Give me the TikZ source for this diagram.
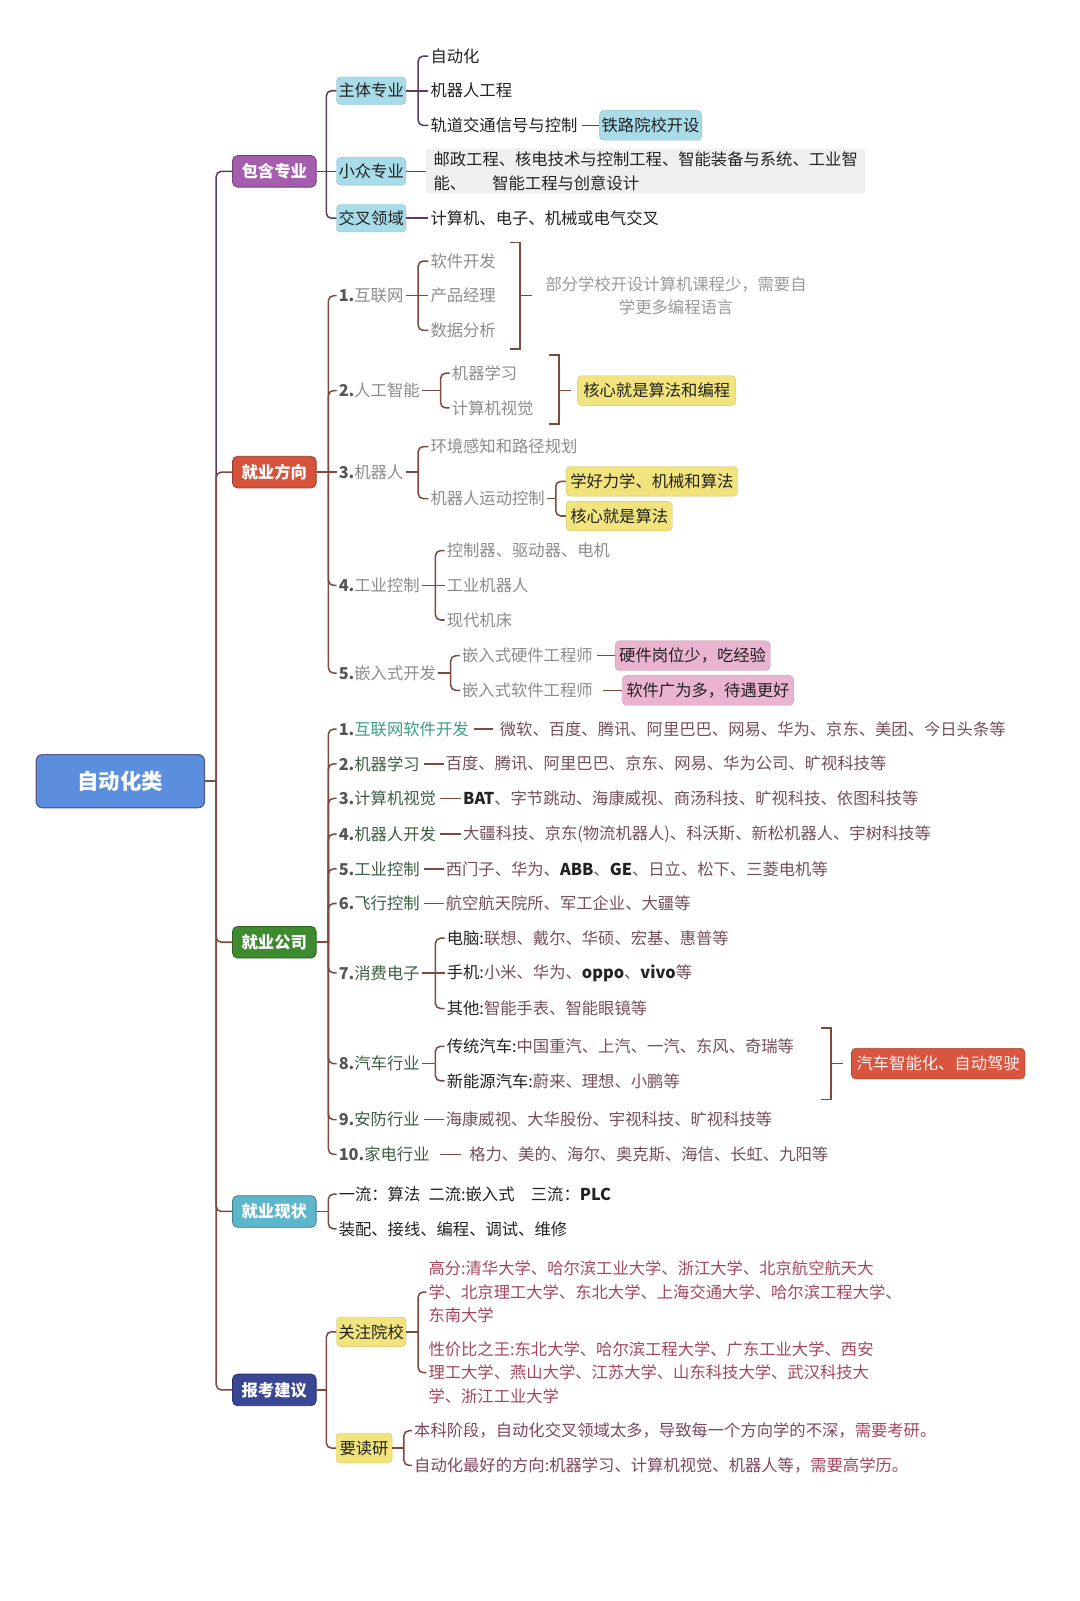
\documentclass[tikz,border=0pt]{standalone}
\usepackage{fontspec}
\setmainfont{Noto Sans CJK SC}
\definecolor{cRoot}{HTML}{5B8EDD}
\definecolor{cRootB}{HTML}{5A5A88}
\definecolor{cPurple}{HTML}{A55DAE}
\definecolor{cRed}{HTML}{D5523B}
\definecolor{cGreen}{HTML}{3D8A2F}
\definecolor{cCyan}{HTML}{5CB6CC}
\definecolor{cNavy}{HTML}{3A4794}
\definecolor{cLBlue}{HTML}{A8DCE9}
\definecolor{cYel}{HTML}{F2E47C}
\definecolor{cPink}{HTML}{EAB3CF}
\definecolor{cBg}{HTML}{EFEFEF}
\definecolor{cTxt}{HTML}{222222}
\definecolor{cGrey}{HTML}{8C8C8C}
\definecolor{cGreyL}{HTML}{9A9A9A}
\definecolor{cNum}{HTML}{555555}
\definecolor{cTeal}{HTML}{3E9E82}
\definecolor{cLab}{HTML}{3D5E44}
\definecolor{cMar}{HTML}{74505A}
\definecolor{cRose}{HTML}{A4475E}
\definecolor{cMar2}{HTML}{7D4760}
\definecolor{cPL}{HTML}{5E3B62}
\definecolor{cBL}{HTML}{7E4A3C}
\definecolor{cCarR}{HTML}{D9553E}
\begin{document}
\begin{tikzpicture}[x=1pt,y=-1pt,
  conn/.style={line width=1.5pt, draw=cBL, rounded corners=5pt},
  connP/.style={conn, draw=cPL},
  brk/.style={line width=1.5pt, draw=cBL},
  txt/.style={anchor=west, inner xsep=2pt, inner ysep=2pt, text=cTxt, font=\fontsize{16}{23}\selectfont},
  gtxt/.style={txt, text=cGrey},
  ltxt/.style={txt, text=cLab},
  mtxt/.style={txt, text=cMar},
  lbox/.style={rounded corners=5pt, draw=#1!70!black, fill=#1, line width=0.8pt, text=white, font=\bfseries\fontsize{16}{20}\selectfont, minimum width=82pt, minimum height=31pt, inner sep=0pt},
  sbox/.style={rounded corners=4pt, fill=cLBlue, draw=cLBlue!85!black, line width=0.4pt, text=cTxt, font=\fontsize{16}{20}\selectfont, minimum width=68pt, minimum height=27pt, inner sep=0pt},
  ybox/.style={rounded corners=4pt, fill=cYel, draw=cYel!85!black, line width=0.4pt, text=cTxt, font=\fontsize{16}{20}\selectfont, minimum height=29pt, inner xsep=4pt},
  pbox/.style={rounded corners=4pt, fill=cPink, draw=cPink!85!black, line width=0.4pt, text=cTxt, font=\fontsize{16}{20}\selectfont, minimum height=29pt, inner xsep=4pt}
]
\useasboundingbox (0,0) rectangle (1059,1570);
\fill[white] (0,0) rectangle (1059,1570);

% root
\node[draw=cRootB, fill=cRoot, rounded corners=6pt, line width=1.2pt, minimum width=165pt, minimum height=52pt, text=white, font=\bfseries\fontsize{21}{24}\selectfont] (root) at (118,766) {自动化类};

% level 1
\node[lbox=cPurple] (bh) at (269,168) {包含专业};
\node[lbox=cRed] (jf) at (269,463) {就业方向};
\node[lbox=cGreen] (jg) at (269,924) {就业公司};
\node[lbox=cCyan] (jx) at (269,1188) {就业现状};
\node[lbox=cNavy] (bk) at (269,1363) {报考建议};

\draw[conn] (root.east) -- (212,766) coordinate (t0);
\draw[connP] (t0) |- (bh.west);
\draw[conn] (t0) |- (jf.west);
\draw[conn] (t0) |- (jg.west);
\draw[conn] (t0) |- (jx.west);
\draw[conn] (t0) |- (bk.west);

% ===== 包含专业
\node[sbox] (zt) at (364,89) {主体专业};
\node[sbox] (xz) at (364,168) {小众专业};
\node[sbox] (jc) at (364,214) {交叉领域};
\draw[connP] (bh.east) -- (320,168) coordinate (j1);
\draw[connP] (j1) |- (zt.west);
\draw[connP] (j1) -- (xz.west);
\draw[connP] (j1) |- (jc.west);

\node[txt] (m1) at (420,55) {自动化};
\node[txt] (m2) at (420,89) {机器人工程};
\node[txt] (m3) at (420,123) {轨道交通信号与控制};
\draw[connP] (zt.east) -- (410,89) coordinate (j2);
\draw[connP] (j2) |- (m1.west);
\draw[connP] (j2) -- (m2.west);
\draw[connP] (j2) |- (m3.west);
\node[sbox, minimum width=100pt, minimum height=29pt] (tl) at (638,123) {铁路院校开设};
\draw[connP, shorten <=2pt] (m3.east) -- (tl.west);

\node[anchor=west, fill=cBg, rounded corners=2pt, align=left, inner xsep=4pt, inner ysep=3pt, text=cTxt, font=\fontsize{16}{23}\selectfont, minimum width=430pt] (xzt) at (418,168) {邮政工程、核电技术与控制工程、智能装备与系统、工业智\\能、\hspace{1.6em}智能工程与创意设计};
\draw[connP] (xz.east) -- (xzt.west);
\node[txt] (jct) at (420,214) {计算机、电子、机械或电气交叉};
\draw[connP] (jc.east) -- (jct.west);

% ===== 就业方向
\draw[conn] (jf.east) -- (322,463) coordinate (j3);
\node[gtxt] (d1) at (330,290) {\textbf{\color{cNum}1.}互联网};
\node[gtxt] (d2) at (330,383) {\textbf{\color{cNum}2.}人工智能};
\node[gtxt] (d3) at (330,463) {\textbf{\color{cNum}3.}机器人};
\node[gtxt] (d4) at (330,574) {\textbf{\color{cNum}4.}工业控制};
\node[gtxt] (d5) at (330,660) {\textbf{\color{cNum}5.}嵌入式开发};
\draw[conn] (j3) |- (d1.west);
\draw[conn] (j3) |- (d2.west);
\draw[conn] (j3) -- (d3.west);
\draw[conn] (j3) |- (d4.west);
\draw[conn] (j3) |- (d5.west);

% 1.互联网
\draw[conn] (d1.east) -- (410,290) coordinate (j4);
\node[gtxt] (e11) at (420,256) {软件开发};
\node[gtxt] (e12) at (420,290) {产品经理};
\node[gtxt] (e13) at (420,324) {数据分析};
\draw[conn] (j4) |- (e11.west);
\draw[conn] (j4) -- (e12.west);
\draw[conn] (j4) |- (e13.west);
\draw[brk] (500,238) -- (510,238) -- (510,342) -- (500,342);
\draw[brk] (510,290) -- (522,290) coordinate (k1);
\node[text=cGreyL, align=center, font=\fontsize{16}{23}\selectfont] (n1) at (663,290) {部分学校开设计算机课程少，需要自\\学更多编程语言};

% 2.人工智能
\draw[conn] (d2.east) -- (432,383) coordinate (j5);
\node[gtxt] (e21) at (441,366) {机器学习};
\node[gtxt] (e22) at (441,400) {计算机视觉};
\draw[conn] (j5) |- (e21.west);
\draw[conn] (j5) |- (e22.west);
\draw[brk] (538,348) -- (548,348) -- (548,416) -- (538,416);
\draw[brk] (548,383) -- (560,383) coordinate (k2);
\node[ybox, minimum width=155pt] (y1) at (644,383) {核心就是算法和编程};

% 3.机器人
\draw[conn] (d3.east) -- (410,463) coordinate (j6);
\node[gtxt] (e31) at (420,438) {环境感知和路径规划};
\node[gtxt] (e32) at (420,489) {机器人运动控制};
\draw[conn] (j6) |- (e31.west);
\draw[conn] (j6) |- (e32.west);
\draw[conn] (e32.east) -- (545,489) coordinate (j7);
\node[ybox, anchor=west, minimum width=165pt] (y2) at (555,472) {学好力学、机械和算法};
\node[ybox, anchor=west, minimum width=102pt] (y3) at (555,506) {核心就是算法};
\draw[conn] (j7) |- (y2.west);
\draw[conn] (j7) |- (y3.west);

% 4.工业控制
\draw[conn] (d4.east) -- (427,574) coordinate (j8);
\node[gtxt] (e41) at (436,540) {控制器、驱动器、电机};
\node[gtxt] (e42) at (436,574) {工业机器人};
\node[gtxt] (e43) at (436,608) {现代机床};
\draw[conn] (j8) |- (e41.west);
\draw[conn] (j8) -- (e42.west);
\draw[conn] (j8) |- (e43.west);

% 5.嵌入式开发
\draw[conn] (d5.east) -- (442,660) coordinate (j9);
\node[gtxt] (e51) at (451,643) {嵌入式硬件工程师};
\node[gtxt] (e52) at (451,677) {嵌入式软件工程师};
\draw[conn] (j9) |- (e51.west);
\draw[conn] (j9) |- (e52.west);
\node[pbox, anchor=west, minimum width=150pt] (p1) at (603,643) {硬件岗位少，吃经验};
\node[pbox, anchor=west, minimum width=163pt] (p2) at (610,677) {软件广为多，待遇更好};
\draw[conn, shorten <=2pt] (e51.east) -- (p1.west);
\draw[conn, shorten <=8pt] (e52.east) -- (p2.west);

% ===== 就业公司
\draw[conn] (jg.east) -- (322,924) coordinate (j10);
\node[ltxt] (c1) at (330,715) {\textbf{\color{cNum}1.}\textcolor{cTeal}{互联网软件开发}};
\node[ltxt] (c2) at (330,749) {\textbf{\color{cNum}2.}机器学习};
\node[ltxt] (c3) at (330,783) {\textbf{\color{cNum}3.}计算机视觉};
\node[ltxt] (c4) at (330,818) {\textbf{\color{cNum}4.}机器人开发};
\node[ltxt] (c5) at (330,852) {\textbf{\color{cNum}5.}工业控制};
\node[ltxt] (c6) at (330,886) {\textbf{\color{cNum}6.}飞行控制};
\node[ltxt] (c7) at (330,954) {\textbf{\color{cNum}7.}消费电子};
\node[ltxt] (c8) at (330,1043) {\textbf{\color{cNum}8.}汽车行业};
\node[ltxt] (c9) at (330,1098) {\textbf{\color{cNum}9.}安防行业};
\node[ltxt] (c10) at (330,1132) {\textbf{\color{cNum}10.}家电行业};
\foreach \c in {c1,c2,c3,c4,c5,c6,c7,c8,c9,c10}{
  \draw[conn] (j10) |- (\c.west);
}

\node[mtxt] (c1l) at (488,715) {微软、百度、腾讯、阿里巴巴、网易、华为、京东、美团、今日头条等};
\node[mtxt] (c2l) at (435,749) {百度、腾讯、阿里巴巴、京东、网易、华为公司、旷视科技等};
\node[mtxt] (c3l) at (452,783) {\textbf{\color{cTxt}BAT}、字节跳动、海康威视、商汤科技、旷视科技、依图科技等};
\node[mtxt] (c4l) at (452,818) {大疆科技、京东(物流机器人)、科沃斯、新松机器人、宇树科技等};
\node[mtxt] (c5l) at (435,852) {西门子、华为、\textbf{\color{cTxt}ABB}、\textbf{\color{cTxt}GE}、日立、松下、三菱电机等};
\node[mtxt] (c6l) at (435,886) {航空航天院所、军工企业、大疆等};
\node[mtxt] (c9l) at (435,1098) {海康威视、大华股份、宇视科技、旷视科技等};
\node[mtxt] (c10l) at (458,1132) {格力、美的、海尔、奥克斯、海信、长虹、九阳等};
\draw[conn, shorten <=3pt, shorten >=5pt] (c1.east) -- (c1l.west);
\draw[conn, shorten <=2pt] (c2.east) -- (c2l.west);
\draw[conn, shorten <=2pt] (c3.east) -- (c3l.west);
\draw[conn, shorten <=2pt] (c4.east) -- (c4l.west);
\draw[conn, shorten <=2pt] (c5.east) -- (c5l.west);
\draw[conn, shorten <=2pt] (c6.east) -- (c6l.west);
\draw[conn, shorten <=2pt] (c9.east) -- (c9l.west);
\draw[conn, shorten <=8pt, shorten >=6pt] (c10.east) -- (c10l.west);

% 7.消费电子
\draw[conn] (c7.east) -- (427,954) coordinate (j11);
\node[mtxt] (s71) at (436,920) {{\color{cTxt}电脑:}联想、戴尔、华硕、宏基、惠普等};
\node[mtxt] (s72) at (436,954) {{\color{cTxt}手机:}小米、华为、\textbf{\color{cTxt}oppo}、\textbf{\color{cTxt}vivo}等};
\node[mtxt] (s73) at (436,989) {{\color{cTxt}其他:}智能手表、智能眼镜等};
\draw[conn] (j11) |- (s71.west);
\draw[conn] (j11) -- (s72.west);
\draw[conn] (j11) |- (s73.west);

% 8.汽车行业
\draw[conn] (c8.east) -- (427,1043) coordinate (j12);
\node[mtxt] (s81) at (436,1026) {{\color{cTxt}传统汽车:}中国重汽、上汽、一汽、东风、奇瑞等};
\node[mtxt] (s82) at (436,1060) {{\color{cTxt}新能源汽车:}蔚来、理想、小鹏等};
\draw[conn] (j12) |- (s81.west);
\draw[conn] (j12) |- (s82.west);
\draw[brk] (805,1008) -- (815,1008) -- (815,1078) -- (805,1078);
\draw[brk] (815,1043) -- (827,1043) coordinate (k3);
\node[rounded corners=4pt, fill=cCarR, draw=cCarR!80!black, line width=0.5pt, text=white!90!cPink, font=\fontsize{16}{20}\selectfont, minimum width=170pt, minimum height=30pt] (car) at (920,1043) {汽车智能化、自动驾驶};

% ===== 就业现状
\draw[conn] (jx.east) -- (322,1188) coordinate (j13);
\node[txt] (x1) at (330,1171) {一流：算法\enspace 二流:嵌入式\quad 三流：\textbf{PLC}};
\node[txt] (x2) at (330,1205) {装配、接线、编程、调试、维修};
\draw[conn] (j13) |- (x1.west);
\draw[conn] (j13) |- (x2.west);

% ===== 报考建议
\draw[conn] (bk.east) -- (320,1363) coordinate (j14);
\node[ybox, minimum width=68pt, inner xsep=0pt] (gz) at (364,1306) {关注院校};
\node[ybox, minimum width=55pt, inner xsep=0pt] (yd) at (357,1420) {要读研};
\draw[conn] (j14) |- (gz.west);
\draw[conn] (j14) |- (yd.west);

\draw[conn] (gz.east) -- (410,1306) coordinate (j15);
\node[txt, text=cRose, align=left] (gf) at (418,1267) {高分:清华大学、哈尔滨工业大学、浙江大学、北京航空航天大\\学、北京理工大学、东北大学、上海交通大学、哈尔滨工程大学、\\东南大学};
\node[txt, text=cRose, align=left] (xj) at (418,1346) {性价比之王:东北大学、哈尔滨工程大学、广东工业大学、西安\\理工大学、燕山大学、江苏大学、山东科技大学、武汉科技大\\学、浙江工业大学};
\draw[conn] (j15) |- (gf.west);
\draw[conn] (j15) |- (xj.west);

\draw[conn] (yd.east) -- (396,1420) coordinate (j16);
\node[txt, text=cMar2] (r1) at (404,1403) {本科阶段，自动化交叉领域太多，导致每一个方向学的不深，\textcolor{cRose}{需要考研。}};
\node[txt, text=cMar2] (r2) at (404,1437) {自动化最好的方向:机器学习、计算机视觉、机器人等，\textcolor{cRose}{需要高学历。}};
\draw[conn] (j16) |- (r1.west);
\draw[conn] (j16) |- (r2.west);
\end{tikzpicture}
\end{document}
